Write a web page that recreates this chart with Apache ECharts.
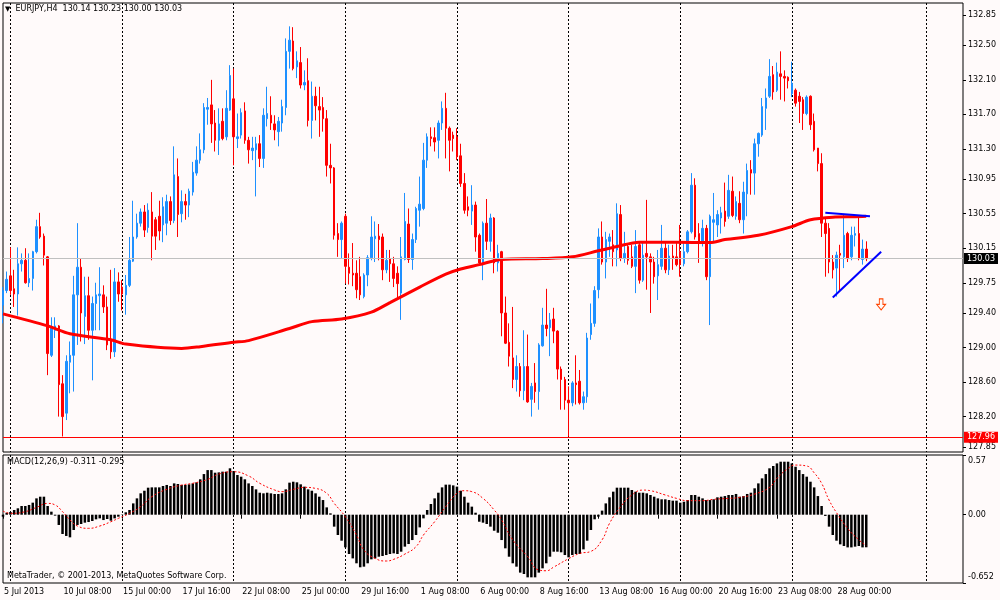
<!doctype html>
<html>
<head>
<meta charset="utf-8">
<title>EURJPY,H4</title>
<style>
    html, body { margin: 0; padding: 0; background: #fffafa; }
    #main { width: 1000px; height: 600px; }
</style>
</head>
<body>
<div id="main"></div>
<script src="https://cdn.jsdelivr.net/npm/echarts@6/dist/echarts.min.js"></script>
<script>
// H4 bars, [open, high, low, close], first bar = 5 Jul 2013 16:00
var ohlc = [
    [129.49,129.70,129.28,129.66], [129.66,129.88,129.63,129.79], [129.83,130.16,129.61,129.66], [129.68,129.90,129.47,129.62], [129.62,130.16,129.37,129.97],
    [129.97,130.09,129.88,130.01], [130.01,130.15,129.74,129.75], [129.75,130.09,129.70,129.80], [129.80,130.12,129.66,130.11], [130.11,130.48,130.09,130.40],
    [130.40,130.56,130.26,130.28], [130.29,130.32,129.95,130.07], [130.05,130.06,128.68,128.93], [128.91,129.35,128.89,129.24], [129.20,129.35,129.11,129.25],
    [129.25,129.26,128.20,128.57], [128.58,128.68,127.97,128.20], [128.24,128.91,128.16,128.84], [128.83,129.07,128.47,128.91], [128.91,129.83,128.49,129.61],
    [129.61,130.44,129.03,129.93], [129.93,130.03,129.07,129.40], [129.36,129.82,129.04,129.60], [129.60,129.82,129.09,129.20], [129.20,129.59,128.62,129.51],
    [129.51,129.75,129.20,129.61], [129.60,129.93,129.20,129.62], [129.61,129.72,129.40,129.47], [129.47,129.59,128.97,129.03], [129.09,129.90,128.87,128.95],
    [128.95,129.92,128.89,129.76], [129.76,129.87,129.53,129.62], [129.70,129.78,129.43,129.62], [129.61,129.84,129.38,129.72], [129.72,130.28,129.70,130.01],
    [130.00,130.70,129.99,130.28], [130.28,130.55,130.26,130.44], [130.44,130.61,130.40,130.57], [130.57,130.65,130.28,130.36], [130.39,130.67,130.33,130.59],
    [130.57,130.80,130.01,130.29], [130.48,130.51,130.13,130.29], [130.52,130.70,130.24,130.35], [130.42,130.74,130.22,130.63], [130.44,130.77,130.30,130.69],
    [130.69,130.75,130.42,130.47], [130.47,131.33,130.44,131.00], [130.98,131.19,130.28,130.54], [130.55,130.82,130.45,130.69], [130.69,130.78,130.48,130.65],
    [130.65,130.84,130.51,130.81], [130.80,131.15,130.76,131.03], [131.02,131.33,130.99,131.17], [131.17,131.48,131.13,131.29], [131.29,131.83,131.25,131.78],
    [131.76,131.89,131.58,131.78], [131.81,132.10,131.37,131.59], [131.60,131.75,131.27,131.40], [131.40,131.77,131.23,131.59], [131.62,131.77,131.40,131.42],
    [131.44,131.98,131.40,131.77], [131.75,132.27,131.74,132.15], [131.88,132.23,131.11,131.44], [131.42,131.71,131.31,131.44], [131.46,131.77,131.42,131.72],
    [131.74,131.84,131.36,131.40], [131.40,131.44,131.13,131.29], [131.28,131.44,131.17,131.31], [131.29,131.44,130.75,131.36], [131.36,131.46,131.09,131.19],
    [131.19,131.77,131.08,131.69], [131.65,132.02,131.56,131.71], [131.69,131.91,131.52,131.60], [131.59,131.69,131.40,131.52], [131.50,131.67,131.33,131.62],
    [131.60,131.87,131.50,131.79], [131.78,132.58,131.69,132.43], [132.43,132.72,132.23,132.56], [132.55,132.71,132.21,132.23], [132.25,132.43,132.12,132.32],
    [132.30,132.48,132.00,132.04], [132.04,132.21,131.98,132.07], [132.09,132.35,131.56,131.63], [131.63,132.08,131.42,131.91], [131.91,132.02,131.63,131.80],
    [131.79,132.02,131.44,131.75], [131.78,131.90,131.50,131.65], [131.65,131.75,130.98,131.11], [131.11,131.36,130.90,131.08], [131.08,131.09,130.25,130.30],
    [130.32,130.44,130.05,130.25], [130.25,130.46,130.03,130.44], [130.52,130.55,129.74,129.94], [129.93,130.09,129.73,129.86], [129.86,130.21,129.71,129.84],
    [129.86,130.01,129.57,129.67], [129.82,130.05,129.55,129.61], [129.59,129.86,129.57,129.84], [129.84,130.07,129.71,130.04], [130.04,130.52,130.01,130.28],
    [130.26,130.46,129.99,130.29], [130.29,130.43,130.01,130.25], [130.28,130.32,129.78,129.90], [129.90,130.13,129.86,130.01], [130.03,130.13,129.76,129.97],
    [129.97,130.05,129.70,129.80], [129.86,129.94,129.57,129.74], [129.63,130.28,129.32,130.05], [130.02,130.79,130.01,130.46], [130.43,130.61,129.98,130.02],
    [130.02,130.32,129.90,130.25], [130.25,130.63,130.21,130.61], [130.59,130.98,130.40,130.66], [130.61,131.37,130.59,131.17], [131.17,131.48,131.08,131.44],
    [131.44,131.55,131.33,131.42], [131.43,131.55,131.27,131.38], [131.40,131.63,131.19,131.60], [131.60,131.85,131.52,131.77], [131.77,131.95,131.19,131.54],
    [131.54,131.56,131.04,131.40], [131.46,131.50,131.27,131.42], [131.44,131.54,131.17,131.21], [131.22,131.36,130.86,130.90], [130.90,131.02,130.55,130.59],
    [130.63,130.75,130.52,130.59], [130.58,130.88,130.42,130.65], [130.65,130.69,130.11,130.28], [130.30,130.32,129.96,129.98], [129.98,130.46,129.78,130.44],
    [130.44,130.72,130.13,130.23], [130.23,130.55,130.11,130.50], [130.50,130.51,129.86,129.98], [129.98,130.19,129.88,130.09], [130.11,130.12,129.13,129.40],
    [129.40,129.59,129.04,129.05], [129.06,129.28,128.78,128.90], [128.88,129.47,128.53,128.63], [128.63,128.91,128.49,128.78], [128.78,128.82,128.43,128.50],
    [128.50,129.20,128.39,128.78], [128.78,129.15,128.36,128.37], [128.40,128.59,128.20,128.55], [128.59,128.82,128.36,128.49], [128.49,129.05,128.28,129.03],
    [129.02,129.46,129.01,129.26], [129.26,129.68,129.13,129.22], [129.23,129.40,128.90,129.32], [129.33,129.46,129.05,129.19], [129.19,129.20,128.63,128.75],
    [128.75,128.78,128.28,128.63], [128.63,128.66,128.28,128.39], [128.39,128.55,127.97,128.36], [128.36,128.61,128.32,128.59], [128.59,128.91,128.34,128.57],
    [128.61,128.74,128.34,128.36], [128.36,128.49,128.28,128.43], [128.43,129.17,128.36,129.11], [129.15,129.51,129.09,129.28], [129.28,129.71,129.24,129.66],
    [129.67,130.38,129.57,130.28], [130.28,130.46,129.96,129.99], [129.99,130.34,129.80,130.25], [130.23,130.32,130.05,130.28], [130.19,130.36,129.94,130.11],
    [130.13,130.67,129.94,130.55], [130.54,130.65,130.00,130.03], [130.03,130.34,129.98,130.09], [130.17,130.19,129.96,130.01], [130.05,130.19,129.92,129.94],
    [129.94,130.36,129.63,130.17], [130.19,130.23,129.74,129.78], [129.78,130.23,129.76,130.07], [130.09,130.71,129.67,130.05], [130.05,130.09,129.40,129.99],
    [129.99,130.05,129.74,129.82], [129.83,130.13,129.55,129.96], [129.94,130.42,129.90,130.15], [130.15,130.21,129.86,129.90], [129.90,130.19,129.84,130.06],
    [130.06,130.19,129.90,130.03], [130.05,130.23,129.94,129.96], [130.11,130.42,129.82,129.96], [129.97,130.21,129.94,130.11], [130.11,130.36,130.09,130.34],
    [130.34,131.02,130.32,130.88], [130.88,130.96,130.25,130.28], [130.32,130.44,129.98,130.21], [130.21,130.48,130.17,130.38], [130.38,130.42,129.78,129.82],
    [129.82,130.54,129.26,130.52], [130.45,130.79,130.23,130.48], [130.42,130.59,130.28,130.54], [130.50,130.63,130.32,130.56], [130.58,130.91,130.40,130.46],
    [130.52,131.00,130.49,130.82], [130.81,130.98,130.51,130.53], [130.52,130.75,130.48,130.69], [130.67,130.81,130.44,130.48], [130.48,130.92,130.32,130.80],
    [130.78,131.13,130.52,131.05], [131.06,131.17,130.77,131.02], [131.02,131.42,130.77,131.36], [131.36,131.49,131.21,131.48], [131.46,131.89,131.44,131.79],
    [131.77,132.00,131.52,131.89], [131.91,132.34,131.89,132.14], [132.16,132.26,131.87,131.96], [131.98,132.30,131.96,132.19], [132.17,132.43,131.87,132.14],
    [132.14,132.21,131.85,132.12], [132.13,132.14,132.00,132.09], [131.94,132.31,131.90,132.06], [131.98,132.00,131.79,131.83], [131.91,131.96,131.60,131.85],
    [131.87,131.90,131.52,131.71], [131.71,131.92,131.69,131.90], [131.91,131.92,131.52,131.58], [131.62,131.71,131.27,131.29], [131.31,131.31,131.04,131.13],
    [131.13,131.25,130.28,130.44], [130.44,130.50,129.82,130.32], [130.38,130.44,129.86,129.99], [129.99,130.07,129.80,129.90], [129.92,130.11,129.59,130.07],
    [130.09,130.19,129.65,130.07], [130.05,130.54,129.92,130.30], [130.32,130.34,129.99,130.03], [130.05,130.40,130.01,130.30], [130.30,130.40,130.17,130.32],
    [130.32,130.52,130.01,130.03], [130.02,130.25,129.96,130.14], [130.14,130.23,130.00,130.03]
];

// MACD(12,26,9) main line, one value per bar
var macd = [
    -0.019, 0.019, 0.026, 0.045, 0.061, 0.083, 0.083, 0.093, 0.115, 0.156,
    0.172, 0.172, 0.083, 0.029, -0.009, -0.098, -0.184, -0.203, -0.216, -0.146,
    -0.098, -0.089, -0.076, -0.070, -0.060, -0.044, -0.035, -0.051, -0.041, -0.057,
    -0.035, -0.019, -0.003, 0.023, 0.045, 0.108, 0.156, 0.204, 0.229, 0.258,
    0.261, 0.261, 0.261, 0.274, 0.284, 0.274, 0.299, 0.293, 0.284, 0.284,
    0.290, 0.299, 0.309, 0.338, 0.388, 0.426, 0.426, 0.401, 0.404, 0.411,
    0.411, 0.443, 0.417, 0.379, 0.363, 0.338, 0.299, 0.274, 0.242, 0.210,
    0.204, 0.210, 0.204, 0.198, 0.198, 0.204, 0.242, 0.306, 0.315, 0.309,
    0.290, 0.268, 0.242, 0.229, 0.204, 0.172, 0.140, 0.070, 0.013, -0.114,
    -0.194, -0.248, -0.312, -0.375, -0.417, -0.464, -0.502, -0.496, -0.464, -0.426,
    -0.417, -0.401, -0.394, -0.385, -0.375, -0.369, -0.375, -0.353, -0.305, -0.280,
    -0.242, -0.194, -0.121, -0.035, 0.045, 0.102, 0.156, 0.210, 0.261, 0.287,
    0.287, 0.280, 0.268, 0.229, 0.172, 0.115, 0.077, 0.019, -0.067, -0.076,
    -0.089, -0.114, -0.153, -0.172, -0.242, -0.321, -0.401, -0.464, -0.496, -0.553,
    -0.566, -0.598, -0.598, -0.598, -0.553, -0.512, -0.464, -0.401, -0.353, -0.353,
    -0.359, -0.385, -0.407, -0.385, -0.375, -0.375, -0.331, -0.248, -0.146, -0.044,
    -0.019, 0.039, 0.108, 0.166, 0.220, 0.258, 0.258, 0.258, 0.258, 0.236,
    0.220, 0.210, 0.210, 0.204, 0.188, 0.172, 0.156, 0.147, 0.147, 0.140,
    0.134, 0.134, 0.115, 0.124, 0.140, 0.188, 0.188, 0.172, 0.156, 0.140,
    0.140, 0.147, 0.166, 0.172, 0.178, 0.188, 0.188, 0.198, 0.172, 0.178,
    0.198, 0.210, 0.252, 0.299, 0.347, 0.388, 0.443, 0.465, 0.490, 0.506,
    0.506, 0.506, 0.490, 0.458, 0.426, 0.388, 0.363, 0.315, 0.261, 0.178,
    0.083, -0.012, -0.114, -0.194, -0.248, -0.283, -0.299, -0.312, -0.312, -0.305,
    -0.299, -0.312, -0.311
];

// MACD signal line, read at [bar, value]
var signalPts = [
    [0,0.035],[2,0.013],[6,0.029],[9,0.07],[12,0.108],[14,0.093],[16,0.029],[18,-0.05],[20,-0.108],[23,-0.13],
    [26,-0.108],[29,-0.067],[31,-0.035],[34,0.013],[37,0.077],[40,0.172],[44,0.242],[48,0.283],[51,0.30],[55,0.337],
    [58,0.388],[62,0.41],[66,0.37],[69,0.30],[73,0.236],[75,0.22],[78,0.242],[81,0.261],[84,0.251],[87,0.204],
    [89,0.109],[92,-0.019],[95,-0.194],[97,-0.337],[100,-0.417],[103,-0.442],[105,-0.426],[108,-0.376],[111,-0.305],[113,-0.194],
    [116,-0.067],[119,0.077],[122,0.204],[124,0.229],[126,0.22],[129,0.156],[132,0.045],[134,-0.05],[137,-0.24],[141,-0.40],
    [144,-0.528],[146,-0.535],[148,-0.50],[152,-0.42],[155,-0.37],[158,-0.35],[161,-0.24],[163,-0.083],[166,0.077],[169,0.188],
    [172,0.235],[174,0.229],[178,0.188],[181,0.156],[184,0.134],[188,0.134],[191,0.147],[195,0.156],[198,0.165],[202,0.197],
    [206,0.261],[208,0.347],[211,0.442],[213,0.474],[216,0.465],[218,0.40],[220,0.30],[222,0.14],[224,0.02],[227,-0.13],
    [230,-0.24],[232,-0.295]
];

// red moving average, read at [bar, price]
var maPts = [
    [0,129.39],[12,129.25],[18,129.16],[29,129.09],[33,129.04],[48,128.99],[53,129.01],[62,129.06],[66,129.08],[77,129.22],
    [83,129.30],[91,129.33],[99,129.41],[104,129.52],[112,129.70],[119,129.85],[123,129.91],[128,129.96],[134,130.02],[145,130.03],
    [153,130.05],[160,130.12],[165,130.17],[171,130.22],[181,130.22],[190,130.215],[194,130.25],[203,130.30],[212,130.40],[217,130.48],
    [223,130.51],[229,130.515],[232,130.52]
];

var priceTicks = [132.85, 132.50, 132.10, 131.70, 131.30, 130.95, 130.55, 130.15, 129.75, 129.40, 129.00, 128.60, 128.20, 127.85];
var macdTicks = [0.57, 0, -0.652];
var timeLabels = ['5 Jul 2013', '10 Jul 08:00', '15 Jul 00:00', '17 Jul 16:00', '22 Jul 08:00', '25 Jul 00:00', '29 Jul 16:00',
    '1 Aug 08:00', '6 Aug 00:00', '8 Aug 16:00', '13 Aug 08:00', '16 Aug 00:00', '20 Aug 16:00', '23 Aug 08:00', '28 Aug 00:00'];
var timeLabelBars = [0, 16, 32, 48, 64, 80, 96, 112, 128, 144, 160, 176, 192, 208, 224];
var weekLineBars = [2, 32, 62, 92, 122, 152, 182, 212, 248];
var barSlots = 259;

var supportLevel = 127.96;
var triUpper = [[221, 130.56], [233, 130.52]];
var triLower = [[223, 129.58], [236, 130.11]];
var arrowAt = [236, 129.50];

var font = 'DejaVu Sans';
var cats = [];
for (var i = 0; i < barSlots; i++) cats.push(String(i));
// echarts wants [open, close, low, high]
var candles = ohlc.map(function (r) { return [r[0], r[3], r[2], r[1]]; });
var last = ohlc[ohlc.length - 1];
var lastSignal = signalPts[signalPts.length - 1][1];

function inList(list) {
    return function (idx) { return list.indexOf(idx) >= 0; };
}
var weekGrid = { show: true, interval: inList(weekLineBars), lineStyle: { color: '#000', type: [2, 2], width: 1 } };
var txt = { fontFamily: font, fontSize: 8, color: '#000' };

var chart = echarts.init(document.getElementById('main'));
chart.setOption({
    animation: false,
    backgroundColor: '#fffafa',
    title: [{
        left: 5, top: 5, padding: 0,
        text: '{t|▼}  EURJPY,H4  ' + last.map(function (v) { return v.toFixed(2); }).join(' '),
        textStyle: { fontFamily: font, fontSize: 8, fontWeight: 'normal', color: '#000',
            rich: { t: { fontSize: 7, color: '#000', fontFamily: font } } }
    }, {
        left: 7, top: 458, padding: 0,
        text: 'MACD(12,26,9) ' + macd[macd.length - 1].toFixed(3) + ' ' + lastSignal.toFixed(3),
        textStyle: { fontFamily: font, fontSize: 8, fontWeight: 'normal', color: '#000' }
    }, {
        left: 7, top: 572, padding: 0,
        text: 'MetaTrader, © 2001-2013, MetaQuotes Software Corp.',
        textStyle: { fontFamily: font, fontSize: 8, fontWeight: 'normal', color: '#000' }
    }],
    grid: [
        { left: 3, right: 37, top: 3, bottom: 148, show: true, borderColor: '#000', borderWidth: 1 },
        { left: 3, right: 37, top: 455, bottom: 17, show: true, borderColor: '#000', borderWidth: 1 }
    ],
    xAxis: [{
        gridIndex: 0, type: 'category', data: cats, boundaryGap: false,
        axisLine: { show: false }, axisTick: { show: false }, axisLabel: { show: false },
        splitLine: weekGrid
    }, {
        gridIndex: 1, type: 'category', data: cats, boundaryGap: false,
        axisLine: { show: false },
        axisTick: { show: true, interval: inList(timeLabelBars), length: 4, lineStyle: { color: '#000' } },
        axisLabel: {
            show: true, interval: inList(timeLabelBars), align: 'left', margin: 5, padding: [0, 0, 0, 1],
            fontFamily: font, fontSize: 8, color: '#000',
            formatter: function (v, idx) { return timeLabels[timeLabelBars.indexOf(idx)] || ''; }
        },
        splitLine: weekGrid
    }],
    yAxis: [{
        gridIndex: 0, type: 'value', position: 'right', min: 127.79, max: 132.99,
        axisLine: { show: false }, splitLine: { show: false },
        axisTick: { show: true, customValues: priceTicks, length: 3, lineStyle: { color: '#000' } },
        axisLabel: Object.assign({ customValues: priceTicks, margin: 5,
            formatter: function (v) { return v.toFixed(2); } }, txt)
    }, {
        gridIndex: 1, type: 'value', position: 'right', min: -0.652, max: 0.57,
        axisLine: { show: false }, splitLine: { show: false },
        axisTick: { show: true, customValues: macdTicks, length: 3, lineStyle: { color: '#000' } },
        axisLabel: Object.assign({ customValues: macdTicks, margin: 5, showMinLabel: true, showMaxLabel: true,
            formatter: function (v) {
                if (v > 0.5) return '{a|' + v.toFixed(2) + '}';
                if (v < -0.5) return '{b|' + v.toFixed(3) + '}';
                return v.toFixed(2);
            },
            rich: {
                a: { padding: [12, 0, 0, 0], fontFamily: font, fontSize: 8, color: '#000' },
                b: { padding: [0, 0, 12, 0], fontFamily: font, fontSize: 8, color: '#000' }
            } }, txt)
    }],
    series: [{
        name: 'EURJPY', type: 'candlestick', xAxisIndex: 0, yAxisIndex: 0,
        data: candles, barWidth: 2,
        itemStyle: { color: '#1e90ff', color0: '#ff0000', borderColor: '#1e90ff', borderColor0: '#ff0000', borderWidth: 1 },
        markLine: {
            silent: true, symbol: ['none', 'none'], label: { show: false },
            data: [
                { yAxis: last[3], lineStyle: { color: '#c0c0c0', width: 1, type: 'solid' },
                  label: { show: true, position: 'end', distance: 1, formatter: last[3].toFixed(2),
                      backgroundColor: '#000', color: '#fff', padding: [2, 3, 1, 3], fontFamily: font, fontSize: 8 } },
                { yAxis: supportLevel, lineStyle: { color: '#ff0000', width: 1, type: 'solid' },
                  label: { show: true, position: 'end', distance: 1, formatter: supportLevel.toFixed(2),
                      backgroundColor: '#ff0000', color: '#fff', padding: [2, 3, 1, 3], fontFamily: font, fontSize: 8 } },
                [{ coord: triUpper[0], lineStyle: { color: '#0000ff', width: 2, type: 'solid' } }, { coord: triUpper[1] }],
                [{ coord: triLower[0], lineStyle: { color: '#0000ff', width: 2, type: 'solid' } }, { coord: triLower[1] }]
            ]
        },
        markPoint: {
            silent: true,
            symbol: 'path://M3,0L7,0L7,6L10,6L5,12L0,6L3,6Z', symbolSize: [9, 11],
            itemStyle: { color: 'rgba(0,0,0,0)', borderColor: '#ff4500', borderWidth: 1 },
            label: { show: false },
            data: [{ coord: arrowAt }]
        }
    }, {
        name: 'MA', type: 'line', xAxisIndex: 0, yAxisIndex: 0,
        data: maPts, smooth: 0.3, showSymbol: false, z: 3,
        lineStyle: { color: '#ff0000', width: 3 }
    }, {
        name: 'MACD', type: 'bar', xAxisIndex: 1, yAxisIndex: 1,
        data: macd, barWidth: 2.5,
        itemStyle: { color: '#000' }
    }, {
        name: 'Signal', type: 'line', xAxisIndex: 1, yAxisIndex: 1,
        data: signalPts, smooth: true, showSymbol: false, z: 3,
        lineStyle: { color: '#ff0000', width: 1, type: [2, 2] }
    }]
});
window.onresize = chart.resize;
</script>
</body>
</html>
